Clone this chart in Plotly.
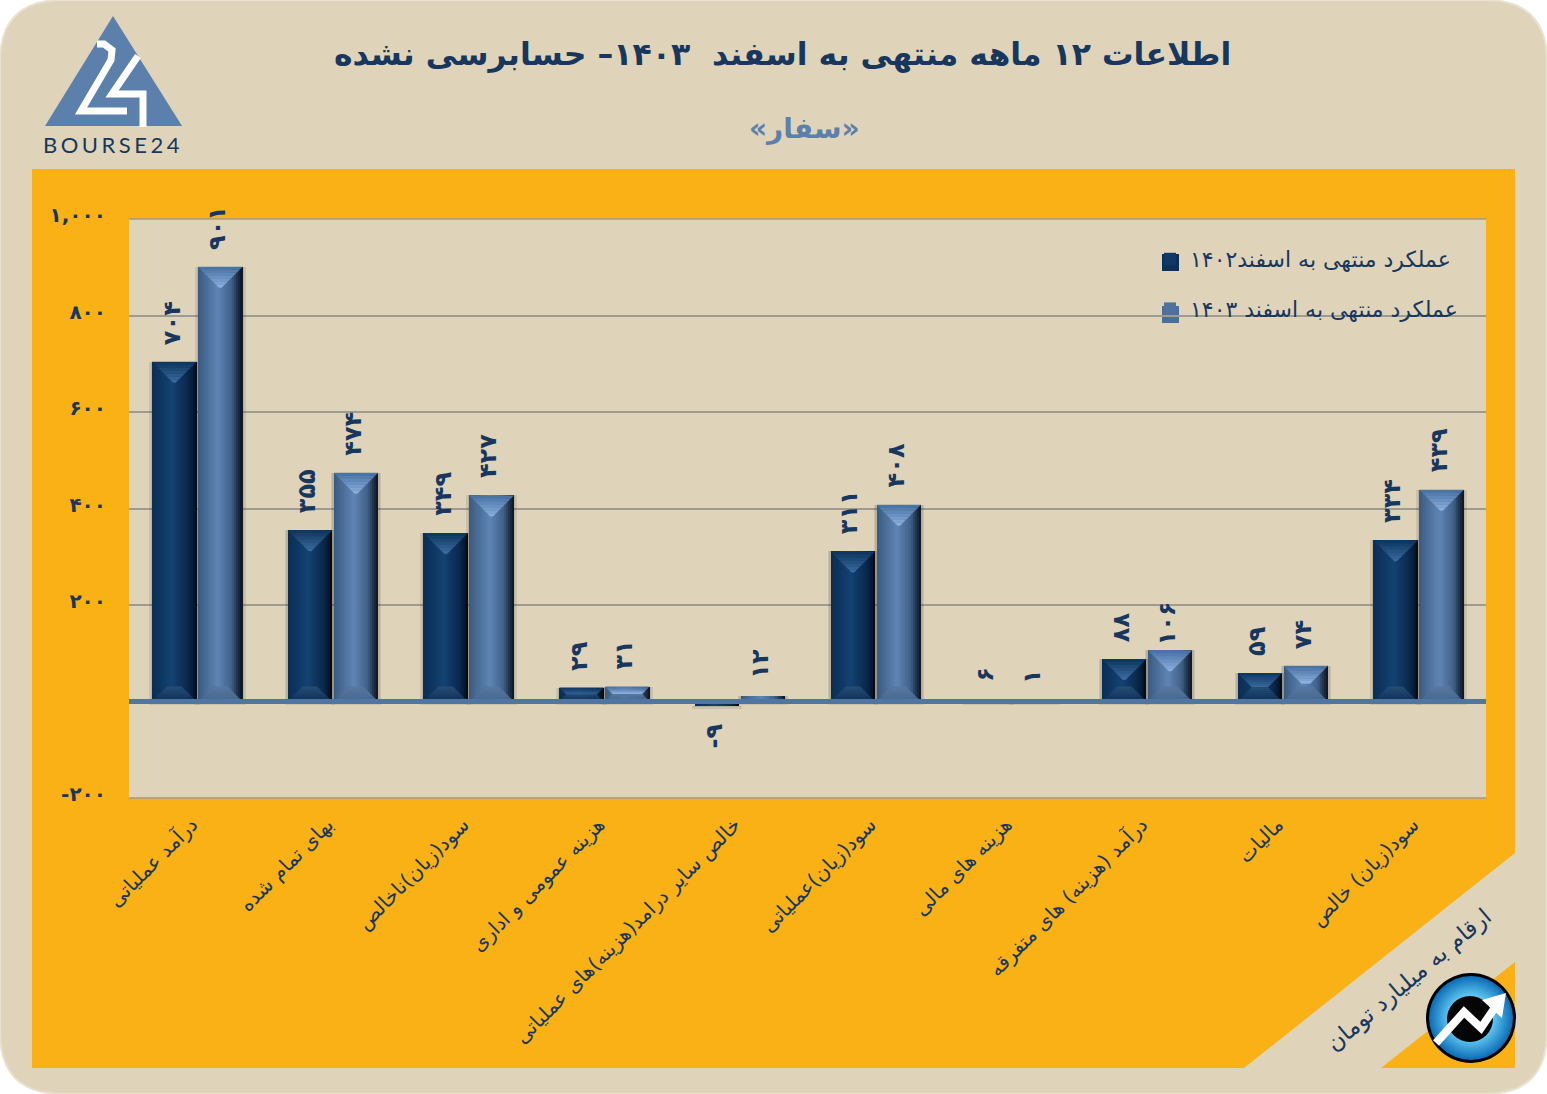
import plotly.graph_objects as go

categories = ["درآمد عملیاتی", "بهای تمام شده", "سود(زیان)ناخالص", "هزینه عمومی و اداری",
              "خالص سایر درامد(هزینه)های عملیاتی", "سود(زیان)عملیاتی", "هزینه های مالی",
              "درآمد (هزینه) های متفرقه", "مالیات", "سود(زیان) خالص"]
values_1402 = [704, 355, 349, 29, -9, 311, 6, 88, 59, 334]
values_1403 = [901, 474, 427, 31, 12, 408, 1, 106, 74, 439]
tick_values = [-200, 200, 400, 600, 800, 1000]
tick_labels = ["-۲۰۰", "۲۰۰", "۴۰۰", "۶۰۰", "۸۰۰", "۱,۰۰۰"]
series_names = ["عملکرد منتهی به اسفند۱۴۰۲", "عملکرد منتهی به اسفند ۱۴۰۳"]
title_text = "اطلاعات ۱۲ ماهه منتهی به اسفند  ۱۴۰۳– حسابرسی نشده"
subtitle_text = "«سفار»"
unit_text = "ارقام به میلیارد تومان"

W, H = 1547, 1094
L, R, T, B = 129, 1486, 219, 798
FONT = "DejaVu Sans"
NAVY = "#17375e"
BEIGE = "#dfd4b9"
ORANGE = "#f9b116"
STEEL = "#5b80ab"
GRID = "#9e9b90"
PER = str.maketrans("0123456789", "۰۱۲۳۴۵۶۷۸۹")


def px(x):
    return (x - L) / (R - L)


def py(y):
    return (B - y) / (B - T)


def poly(points, color, line=None, width=0, layer="below"):
    d = "M" + " L".join(f"{px(a):.5f},{py(b):.5f}" for a, b in points) + " Z"
    return dict(type="path", xref="paper", yref="paper", path=d, fillcolor=color,
                line=dict(color=line or color, width=width), layer=layer)


def stroke(points, color, width, layer="below"):
    d = "M" + " L".join(f"{px(a):.5f},{py(b):.5f}" for a, b in points)
    return dict(type="path", xref="paper", yref="paper", path=d,
                line=dict(color=color, width=width), layer=layer)


def circle(cx, cy, r, color, line=None, width=0):
    return dict(type="circle", xref="paper", yref="paper", x0=px(cx - r), x1=px(cx + r),
                y0=py(cy + r), y1=py(cy - r), fillcolor=color,
                line=dict(color=line or color, width=width), layer="above")


def hex2rgb(c):
    return [int(c[i:i + 2], 16) for i in (1, 3, 5)]


def mix(a, b, t):
    a, b = hex2rgb(a), hex2rgb(b)
    return "#%02x%02x%02x" % tuple(round(a[i] + (b[i] - a[i]) * t) for i in range(3))


def ramp(stops, t):
    for (t0, c0), (t1, c1) in zip(stops, stops[1:]):
        if t <= t1:
            return mix(c0, c1, (t - t0) / (t1 - t0))
    return stops[-1][1]


def rrect(x0, y0, x1, y1, r):
    a, b = px, py
    return (f"M{a(x0 + r)},{b(y0)} L{a(x1 - r)},{b(y0)} Q{a(x1)},{b(y0)} {a(x1)},{b(y0 + r)} "
            f"L{a(x1)},{b(y1 - r)} Q{a(x1)},{b(y1)} {a(x1 - r)},{b(y1)} "
            f"L{a(x0 + r)},{b(y1)} Q{a(x0)},{b(y1)} {a(x0)},{b(y1 - r)} "
            f"L{a(x0)},{b(y0 + r)} Q{a(x0)},{b(y0)} {a(x0 + r)},{b(y0)} Z")


shapes = [
    dict(type="path", xref="paper", yref="paper", path=rrect(0, 0, W, H, 62), fillcolor=BEIGE,
         line=dict(color="#e9e2d0", width=2), layer="below"),
    poly([(32, 169), (1515, 169), (1515, 853), (1244, 1068), (32, 1068)], ORANGE),
    poly([(1515, 962), (1381, 1068), (1515, 1068)], ORANGE),
    poly([(L, T), (R, T), (R, B), (L, B)], BEIGE),
    # plot frame lines at the ends of the value axis
    stroke([(L, T), (R, T)], GRID, 1.5),
    stroke([(L, B), (R, B)], GRID, 1.5),
    # bourse24 logo
    poly([(113, 16), (182, 126), (45, 126)], STEEL),
    stroke([(97, 44), (104, 44), (112, 50), (111, 60), (81, 111), (127, 111)], "white", 7),
    stroke([(138, 56), (112, 94), (143, 94), (143, 127)], "white", 7),
    # legend key frames
    poly([(1162, 254), (1179, 254), (1179, 271), (1162, 271)], "#0c2f58"),
    poly([(1162, 306), (1179, 306), (1179, 323), (1162, 323)], "#4b6f9b"),
]

# bottom-right emblem
shapes.append(circle(1471, 1018, 45, "#000000"))
for i in range(12):
    t = i / 11
    shapes.append(circle(1471, 1018, 42 - 18 * t, mix("#0f70b8", "#5cc2ee", t)))
shapes.append(circle(1470, 1019, 23, "#050505"))
shapes.append(stroke([(1436, 1043), (1464, 1012), (1481, 1028), (1496, 1006)], "white", 8, "above"))
shapes.append(poly([(1482, 1000), (1506, 993), (1502, 1018)], "white", layer="above"))

CW = R - L
CU = CW / 10
BAR_W = 44.5 / CU
OFFS = [-0.33, 0.0085]
STOPS = [
    [(0, "#0b2e55"), (0.45, "#134272"), (0.8, "#0a2a50"), (0.93, "#061a33"), (1, "#030c18")],
    [(0, "#3d5c82"), (0.45, "#5f85b5"), (0.78, "#3f5f87"), (0.92, "#1f3048"), (1, "#0e1a2b")],
]
TOP = [("#0e3862", "#3a6a9c"), ("#4a74a5", "#8aaedd")]
BOT = [("#0e3158", "#254c75"), ("#47688f", "#55779f")]
UNITS_PX = (B - T) / 1200
N = 22
fig = go.Figure()
xs = list(range(len(categories)))
all_vals = [values_1402, values_1403]

# soft shadows
for vals, off in zip(all_vals, OFFS):
    for grow in (3, 1.5):
        pad = grow / UNITS_PX
        fig.add_bar(x=xs, y=[v + pad if v >= 0 else pad for v in vals],
                    base=[-pad if v >= 0 else v - pad for v in vals],
                    width=BAR_W + 2 * grow / CU, offset=off - grow / CU,
                    marker=dict(color="rgba(30,30,30,0.10)", line_width=0),
                    showlegend=False, hoverinfo="skip")

# horizontal gradient made of nested bars
for s, (vals, off) in enumerate(zip(all_vals, OFFS)):
    for k in range(N):
        t = k / (N - 1)
        w = BAR_W * (1 - k / N)
        fig.add_bar(x=xs, y=vals, width=w, offset=off + BAR_W - w,
                    marker=dict(color=ramp(STOPS[s], t), line_width=0),
                    name=series_names[s], showlegend=k == 5, legendgroup=f"s{s}",
                    hoverinfo="skip")

# bevel caps
BANDS = 7
for s, (vals, off) in enumerate(zip(all_vals, OFFS)):
    for end, pal, cap in (("top", TOP[s], 21), ("bot", BOT[s], 15)):
        for b in range(BANDS):
            X, Y = [], []
            for i, v in enumerate(vals):
                hp = min(cap, abs(v) * UNITS_PX / 2)
                sign = 1 if v >= 0 else -1
                l, r = i + off, i + off + BAR_W
                f0, f1 = b / BANDS, (b + 1) / BANDS
                ins0, ins1 = hp * f0 / CU, hp * f1 / CU
                du0, du1 = hp * f0 / UNITS_PX * sign, hp * f1 / UNITS_PX * sign
                if end == "top":
                    y0, y1 = v - du0, v - du1
                else:
                    y0, y1 = du0, du1
                X += [l + ins0, r - ins0, r - ins1, l + ins1, l + ins0, None]
                Y += [y0, y0, y1, y1, y0, None]
            fig.add_scatter(x=X, y=Y, mode="lines", fill="toself", line=dict(width=0),
                            fillcolor=mix(pal[0], pal[1], b / (BANDS - 1)),
                            showlegend=False, hoverinfo="skip")

annotations = []


def note(x, y, text, size, color=NAVY, bold=True, angle=0, family=FONT):
    annotations.append(dict(x=px(x), y=py(y), xref="paper", yref="paper", text=text, showarrow=False,
                            xanchor="center", yanchor="middle", textangle=angle,
                            font=dict(family=family, size=size, color=color,
                                      weight="bold" if bold else "normal")))


note(782, 55, title_text, 31.5)
note(804, 129, subtitle_text, 28, color=STEEL)
note(1408, 980, unit_text, 23, bold=False, angle=-40)
note(113, 144, "BOURSE24", 22, bold=False, family="Lato")

for s, (vals, off) in enumerate(zip(all_vals, OFFS)):
    for i, v in enumerate(vals):
        txt = str(v).translate(PER)
        gap = 3 if v == 106 else 15
        annotations.append(dict(
            x=i + off + BAR_W / 2, y=v, xref="x", yref="y", text=txt, showarrow=False, textangle=-90,
            xanchor="center", xshift=-3, yshift=(gap if v >= 0 else -16),
            yanchor="bottom" if v >= 0 else "top",
            font=dict(family=FONT, size=24, color=NAVY, weight="bold")))

shapes.append(dict(type="line", xref="paper", yref="y", x0=0, x1=1, y0=0, y1=0,
                   line=dict(color="#4f75a3", width=5), layer="above"))

fig.update_layout(
    width=W, height=H, barmode="overlay", bargap=0,
    margin=dict(l=L, r=W - R, t=T, b=H - B, autoexpand=False),
    paper_bgcolor="white", plot_bgcolor="rgba(0,0,0,0)",
    shapes=shapes, annotations=annotations,
    font=dict(family=FONT, color=NAVY),
    legend=dict(x=px(1150), y=py(238), xanchor="left", yanchor="top", bgcolor="rgba(0,0,0,0)",
                font=dict(family=FONT, size=22, color=NAVY), tracegroupgap=18, itemwidth=30),
    xaxis=dict(range=[-0.5, 9.5], tickmode="array", tickvals=xs, ticktext=categories, tickangle=-45,
               showgrid=False, zeroline=False, showline=False, ticks="", ticklabelstandoff=10,
               ticklabelshift=-5,
               tickfont=dict(family=FONT, size=20, color=NAVY), automargin=False),
    yaxis=dict(range=[-200, 1000], tickmode="array", tickvals=tick_values, ticktext=tick_labels,
               showgrid=True, gridcolor=GRID, gridwidth=1.5, zeroline=False, showline=False,
               ticks="", ticklabelstandoff=22, ticklabelshift=-4,
               tickfont=dict(family=FONT, size=20, color=NAVY, weight="bold"), automargin=False),
)

SPACING = """document.body.style.margin='0';document.documentElement.style.overflow='hidden';
function sp(){document.querySelectorAll('text').forEach(function(t){if(t.textContent==='BOURSE24'){t.style.letterSpacing='3.5px';}});}
sp();setTimeout(sp,30);"""
fig.write_html("out.html", config=dict(displayModeBar=False), post_script=SPACING)
